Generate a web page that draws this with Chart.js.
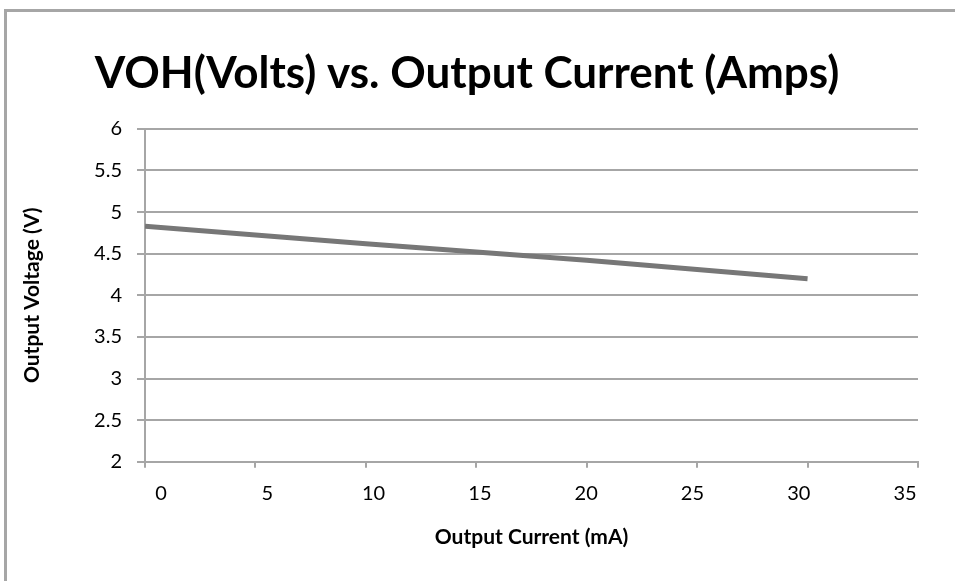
<!DOCTYPE html>
<html>
<head>
<meta charset="utf-8">
<script src="https://cdn.jsdelivr.net/npm/chart.js@4.4.1/dist/chart.umd.min.js"></script>
<style>
  html, body { margin: 0; padding: 0; background: #fff; overflow: hidden; }
  #frame { position: absolute; left: 4px; top: 9px; width: 2000px; height: 2000px; border: 3px solid #a6a6a6; }
  #wrap { position: absolute; left: 0; top: 0; width: 955px; height: 581px; }
</style>
</head>
<body>
<div id="frame"></div>
<div id="wrap"><canvas id="chart"></canvas></div>
<script>
// --- Data ---
const currentMA = [0, 10, 20, 30];
const voltageV = [4.83, 4.62, 4.42, 4.20];
const xTickValues = [0, 5, 10, 15, 20, 25, 30, 35];

const chartTitle = "VOH(Volts) vs. Output Current (Amps)";
const xTitle = "Output Current (mA)";
const yTitle = "Output Voltage (V)";

const FONT = "Lato";
const GRID = "#a6a6a6";

const ctx = document.getElementById("chart").getContext("2d");
new Chart(ctx, {
  type: "line",
  data: {
    datasets: [{
      data: currentMA.map((x, i) => ({ x: x, y: voltageV[i] })),
      borderColor: "#777777",
      borderWidth: 5,
      pointRadius: 0,
      tension: 0,
      xAxisID: "x"
    }]
  },
  options: {
    responsive: true,
    maintainAspectRatio: false,
    animation: false,
    devicePixelRatio: 1,
    layout: { padding: { left: 16, right: 37, top: 9, bottom: 27 } },
    plugins: {
      legend: { display: false },
      tooltip: { enabled: false },
      title: {
        display: true,
        text: chartTitle,
        color: "#000",
        font: { family: FONT, size: 44, weight: "bold" },
        padding: { top: 38, bottom: 29 }
      }
    },
    scales: {
      x: {
        type: "linear",
        position: "bottom",
        min: 0,
        max: 35,
        afterBuildTicks: s => { s.ticks = xTickValues.map(v => ({ value: v })); },
        grid: { display: true, drawOnChartArea: false, drawTicks: true, tickLength: 6, color: GRID, lineWidth: 2 },
        border: { display: true, color: GRID, width: 2 },
        ticks: { display: false }
      },
      // label row: Excel spaces the labels slightly tighter than the tick marks
      xLabels: {
        type: "linear",
        position: "bottom",
        min: -0.753,
        max: 35.61,
        afterBuildTicks: s => { s.ticks = xTickValues.map(v => ({ value: v })); },
        grid: { display: false },
        border: { display: false },
        ticks: { color: "#000", font: { family: FONT, size: 20 }, padding: 6, maxRotation: 0 },
        title: {
          display: true,
          text: xTitle,
          color: "#000",
          font: { family: FONT, size: 21, weight: "bold" },
          padding: { top: 13, bottom: 4 }
        }
      },
      y: {
        min: 2,
        max: 6,
        afterFit: s => { s.width = 129; },
        ticks: {
          stepSize: 0.5,
          color: "#000",
          font: { family: FONT, size: 20 },
          padding: 15,
          callback: v => String(v)
        },
        grid: { color: GRID, lineWidth: 2, tickLength: 8 },
        border: { display: true, color: GRID, width: 2 },
        title: {
          display: true,
          text: yTitle,
          color: "#000",
          font: { family: FONT, size: 21, weight: "bold" },
          padding: { top: 4, bottom: 4 }
        }
      }
    }
  }
});
</script>
</body>
</html>
